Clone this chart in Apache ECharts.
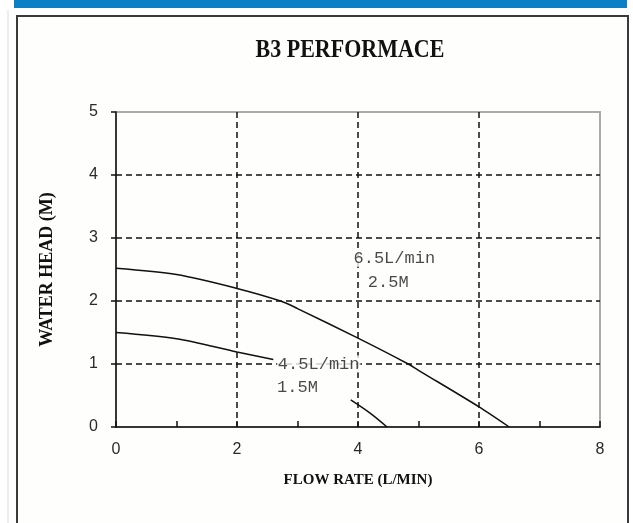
<!DOCTYPE html>
<html>
<head>
<meta charset="utf-8">
<script src="https://cdn.jsdelivr.net/npm/echarts@6/dist/echarts.min.js"></script>
<style>
html,body{margin:0;padding:0;background:#ffffff;}
#chart{width:633px;height:523px;}
</style>
</head>
<body>
<div id="chart"></div>
<script>
// ---- data ----
var titleText = 'B3 PERFORMACE';
var xAxisName = 'FLOW RATE (L/MIN)';
var yAxisName = 'WATER HEAD (M)';
var xTicks = [0, 2, 4, 6, 8];
var yTicks = [0, 1, 2, 3, 4, 5];
// 6.5 L/min pump curve (flow, head)
var curve65 = [[0, 2.52], [1, 2.42], [2, 2.2], [2.72, 2.0], [3, 1.88], [4, 1.41], [4.83, 1.0], [5, 0.9], [6, 0.32], [6.5, 0]];
// 4.5 L/min pump curve, interrupted by its label
var curve45a = [[0, 1.5], [1, 1.4], [2, 1.19], [2.6, 1.07]];
var curve45b = [[3.88, 0.43], [4.2, 0.22], [4.48, 0]];
var annotations = [
  ['6.5L/min', 4.6, 2.68],
  ['2.5M', 4.5, 2.29],
  ['4.5L/min', 3.35, 1.0],
  ['1.5M', 3.0, 0.62]
];

var chart = echarts.init(document.getElementById('chart'), null, {renderer: 'canvas'});
var lineStyle = {color: '#111', width: 1.5};
var option = {
  animation: false,
  backgroundColor: '#ffffff',
  graphic: [
    {type: 'rect', z: -10, shape: {x: 14, y: 0, width: 613, height: 8}, style: {fill: '#0c80c6'}},
    {type: 'line', z: -10, shape: {x1: 8, y1: 10, x2: 8, y2: 523}, style: {stroke: '#dddddd', lineWidth: 1}},
    {type: 'rect', z: -9, shape: {x: 17, y: 16, width: 611, height: 520}, style: {fill: '#fefefc', stroke: '#3a3a3a', lineWidth: 2}},
    {type: 'text', z: 10, x: 350, y: 50, scaleY: 1.15,
      style: {text: titleText, x: 0, y: 0, textAlign: 'center', textVerticalAlign: 'middle', font: 'bold 22px "Liberation Serif"', fill: '#111'}}
  ],
  grid: {left: 116, right: 33, top: 112, bottom: 96, show: true, borderColor: '#aaaaaa', borderWidth: 2, backgroundColor: 'transparent'},
  xAxis: {
    type: 'value', min: 0, max: 8, interval: 2,
    name: xAxisName, nameLocation: 'middle', nameGap: 46,
    nameTextStyle: {fontFamily: 'Liberation Serif', fontWeight: 'bold', fontSize: 15, color: '#111'},
    axisLine: {show: true, onZero: false, lineStyle: {color: '#111', width: 1.5}},
    axisTick: {show: true, inside: true, length: 6, lineStyle: {color: '#111', width: 1.5}},
    minorTick: {show: true, splitNumber: 2, length: 6, lineStyle: {color: '#111', width: 1.5}},
    axisLabel: {margin: 15, fontFamily: 'Liberation Sans', fontSize: 16, color: '#2a2a2a',
      formatter: function (v) { return xTicks.indexOf(v) >= 0 ? String(v) : ''; }},
    splitLine: {show: true, showMinLine: false, showMaxLine: false, lineStyle: {color: '#111', width: 1.5, type: [6, 4]}}
  },
  yAxis: {
    type: 'value', min: 0, max: 5, interval: 1,
    name: yAxisName, nameLocation: 'middle', nameGap: 60, nameRotate: 90,
    nameTextStyle: {fontFamily: 'Liberation Serif', fontWeight: 'bold', fontSize: 18, color: '#111'},
    axisLine: {show: true, onZero: false, lineStyle: {color: '#111', width: 1.5}},
    axisTick: {show: true, inside: false, length: 5, lineStyle: {color: '#111', width: 1.5}},
    axisLabel: {margin: 18, fontFamily: 'Liberation Sans', fontSize: 16, color: '#2a2a2a',
      formatter: function (v) { return yTicks.indexOf(v) >= 0 ? String(v) : ''; }},
    splitLine: {show: true, showMinLine: false, showMaxLine: false, lineStyle: {color: '#111', width: 1.5, type: [6, 4]}}
  },
  series: [
    {type: 'line', data: curve65, smooth: 0.3, showSymbol: false, lineStyle: lineStyle, z: 5},
    {type: 'line', data: curve45a, smooth: 0.3, showSymbol: false, lineStyle: lineStyle, z: 5},
    {type: 'line', data: curve45b, smooth: 0.3, showSymbol: false, lineStyle: lineStyle, z: 5},
    {type: 'scatter', symbolSize: 0, z: 6,
      data: annotations.map(function (a) { return {value: [a[1], a[2]], name: a[0]}; }),
      label: {show: true, position: 'inside', formatter: function (p) { return p.name; },
        fontFamily: 'Liberation Mono', fontSize: 17, color: '#1a1a1a',
        backgroundColor: '#fefefc', padding: [0, 1]}}
  ]
};
chart.setOption(option);
</script>
</body>
</html>
